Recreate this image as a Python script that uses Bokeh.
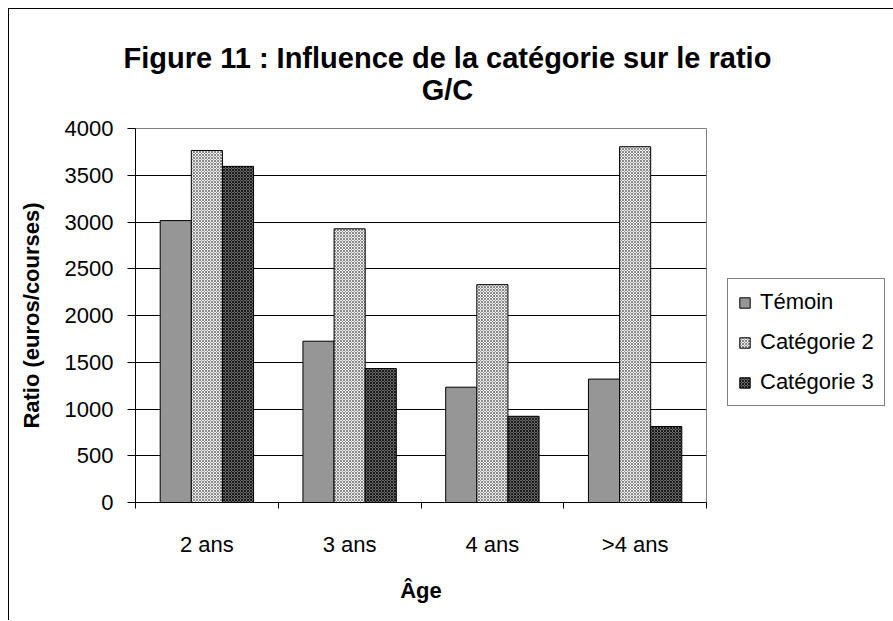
import numpy as np
from bokeh.plotting import figure
from bokeh.models import (ColumnDataSource, FixedTicker, Range1d, Legend, LegendItem, Title)
from bokeh.embed import file_html
from bokeh.resources import INLINE

categories = ["2 ans", "3 ans", "4 ans", ">4 ans"]
series_names = ["Témoin", "Catégorie 2", "Catégorie 3"]
temoin = [3015, 1725, 1233, 1320]
categorie2 = [3765, 2927, 2330, 3805]
categorie3 = [3595, 1433, 922, 813]
y_ticks = [0, 500, 1000, 1500, 2000, 2500, 3000, 3500, 4000]
title_lines = ["Figure 11 : Influence de la catégorie sur le ratio", "G/C"]

FONT = "Liberation Sans"

p = figure(frame_width=571, frame_height=374, output_backend="svg", toolbar_location=None,
           x_range=Range1d(0, len(categories)), y_range=Range1d(0, 4000),
           min_border_left=126, min_border_right=172, min_border_top=119, min_border_bottom=118)
p.styles = {"border-top": "1px solid black", "border-left": "1px solid black",
            "border-right": "1px solid black", "margin-left": "8px", "margin-top": "8px"}

centers = np.arange(len(categories)) + 0.5
bw = 0.218
offsets = [-bw, 0.0, bw]
values = [temoin, categorie2, categorie3]
styles = [
    dict(fill_color="#969696"),
    dict(fill_color="#efefef", hatch_pattern="x", hatch_color="#8a8a8a", hatch_scale=3, hatch_weight=1),
    dict(fill_color="#6a6a6a", hatch_pattern="x", hatch_color="#1a1a1a", hatch_scale=3, hatch_weight=1),
]
renderers = []
for name, vals, off, st in zip(series_names, values, offsets, styles):
    src = ColumnDataSource(dict(x=centers + off, top=vals))
    r = p.vbar(x="x", top="top", width=bw, bottom=0, source=src,
               line_color="black", line_width=1, **st)
    renderers.append((name, r))

p.outline_line_color = "#808080"
p.background_fill_color = "white"
p.border_fill_color = "white"

# grid
p.xgrid.visible = False
p.ygrid.grid_line_color = "black"
p.ygrid.grid_line_width = 1
p.ygrid.ticker = FixedTicker(ticks=y_ticks)

# y axis
p.yaxis.ticker = FixedTicker(ticks=y_ticks)
p.yaxis.axis_line_color = "black"
p.yaxis.major_tick_out = 8
p.yaxis.major_tick_in = 0
p.yaxis.minor_tick_line_color = None
p.yaxis.major_label_text_font = FONT
p.yaxis.major_label_text_font_size = "22px"
p.yaxis.major_label_text_color = "black"
p.yaxis.major_label_standoff = 14
p.yaxis.axis_label = "Ratio (euros/courses)"
p.yaxis.axis_label_text_font = FONT
p.yaxis.axis_label_text_font_size = "22px"
p.yaxis.axis_label_text_font_style = "bold"
p.yaxis.axis_label_text_color = "black"
p.yaxis.axis_label_standoff = 18

# x axis: labels at centers, tick marks at category boundaries
p.xaxis.ticker = FixedTicker(ticks=list(centers), minor_ticks=list(range(len(categories) + 1)))
p.xaxis.major_label_overrides = {float(c): lab for c, lab in zip(centers, categories)}
p.xaxis.axis_line_color = "black"
p.xaxis.major_tick_out = 0
p.xaxis.major_tick_in = 0
p.xaxis.major_tick_line_color = None
p.xaxis.minor_tick_line_color = "black"
p.xaxis.minor_tick_out = 6
p.xaxis.minor_tick_in = 0
p.xaxis.major_label_text_font = FONT
p.xaxis.major_label_text_font_size = "22px"
p.xaxis.major_label_text_color = "black"
p.xaxis.major_label_standoff = 23
p.xaxis.axis_label = "Âge"
p.xaxis.axis_label_text_font = FONT
p.xaxis.axis_label_text_font_size = "22px"
p.xaxis.axis_label_text_font_style = "bold"
p.xaxis.axis_label_text_color = "black"
p.xaxis.axis_label_standoff = 18

# two-line title
p.add_layout(Title(text="\n".join(title_lines), align="left", text_align="center",
                   text_font=FONT, text_font_size="29px", text_font_style="bold",
                   text_color="black", standoff=46, offset=-12), "above")

legend = Legend(items=[LegendItem(label=n, renderers=[r]) for n, r in renderers],
                location=(21, 96), orientation="vertical",
                border_line_color="black", border_line_width=1,
                background_fill_color="white", background_fill_alpha=1,
                label_text_font=FONT, label_text_font_size="22px", label_text_color="black",
                glyph_width=13, glyph_height=13, label_height=20, spacing=14,
                padding=10, margin=0, label_standoff=9)
p.add_layout(legend, "right")

open("out.html", "w").write(file_html(p, INLINE))
